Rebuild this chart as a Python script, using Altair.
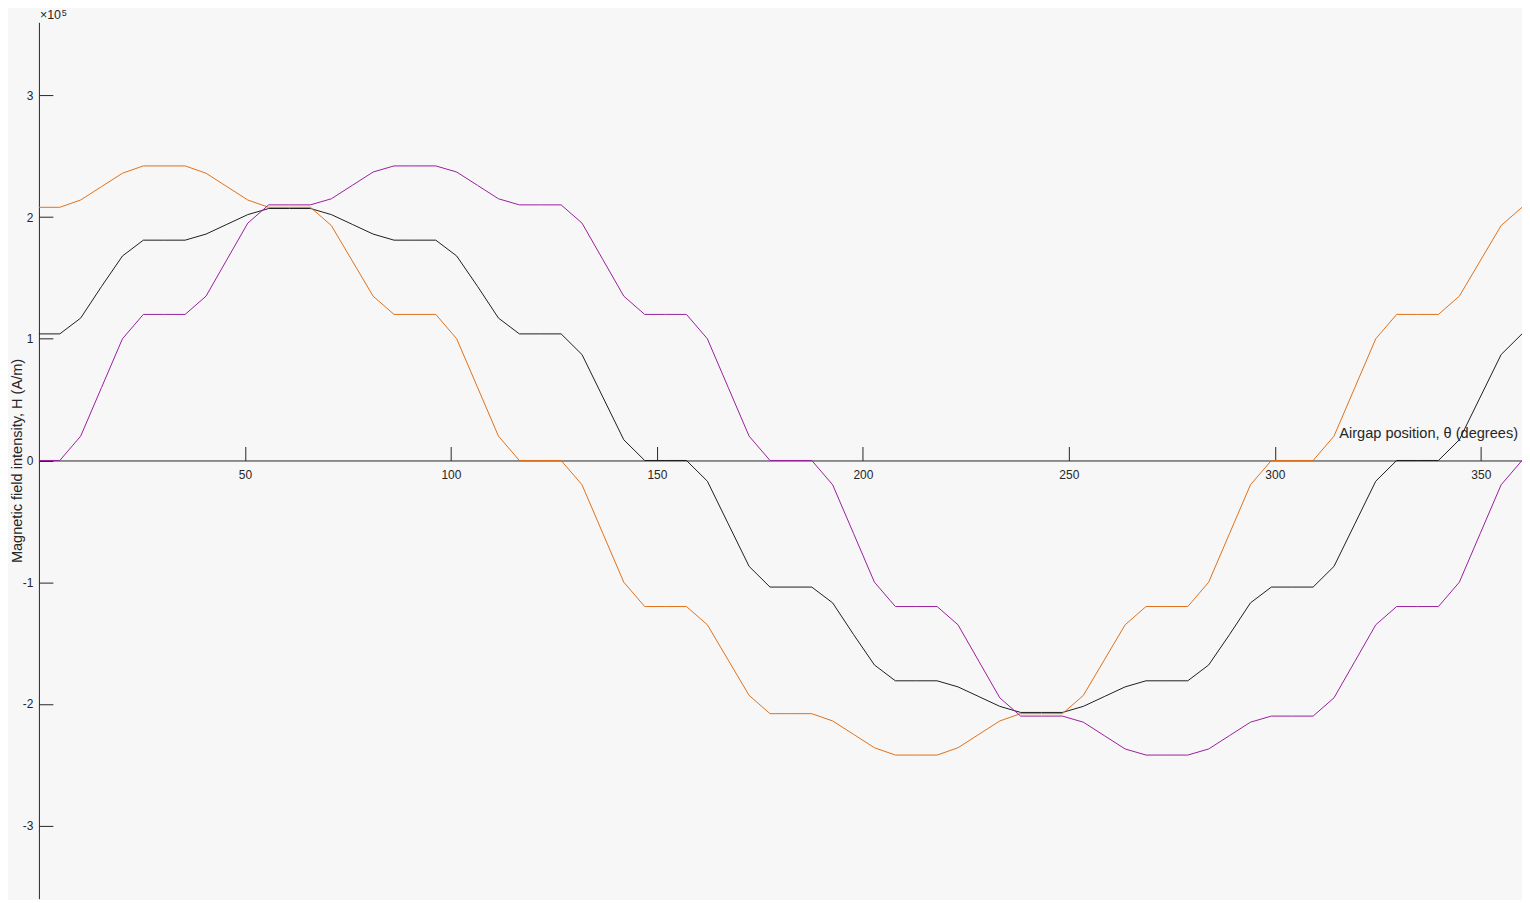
import altair as alt
import pandas as pd

# Airgap position grid (72 samples from 0 to 360 degrees)
theta_deg = [k * 360 / 71 for k in range(72)]

# Magnetic field intensity, in units of 1e5 A/m
h_black = [
    1.04, 1.04, 1.17, 1.43, 1.68, 1.81, 1.81, 1.81, 1.86, 1.94, 2.02, 2.07,
    2.07, 2.07, 2.02, 1.94, 1.86, 1.81, 1.81, 1.81, 1.68, 1.43, 1.17, 1.04,
    1.04, 1.04, 0.87, 0.52, 0.17, 0.00, 0.00, 0.00, -0.17, -0.52, -0.87, -1.04,
    -1.04, -1.04, -1.17, -1.43, -1.68, -1.81, -1.81, -1.81, -1.86, -1.94, -2.02, -2.07,
    -2.07, -2.07, -2.02, -1.94, -1.86, -1.81, -1.81, -1.81, -1.68, -1.43, -1.17, -1.04,
    -1.04, -1.04, -0.87, -0.52, -0.17, 0.00, 0.00, 0.00, 0.17, 0.52, 0.87, 1.04,
]
h_orange = [
    2.08, 2.08, 2.14, 2.25, 2.36, 2.42, 2.42, 2.42, 2.36, 2.25, 2.14, 2.08,
    2.08, 2.08, 1.93, 1.64, 1.35, 1.20, 1.20, 1.20, 1.00, 0.60, 0.20, 0.00,
    0.00, 0.00, -0.20, -0.60, -1.00, -1.20, -1.20, -1.20, -1.35, -1.64, -1.93, -2.08,
    -2.08, -2.08, -2.14, -2.25, -2.36, -2.42, -2.42, -2.42, -2.36, -2.25, -2.14, -2.08,
    -2.08, -2.08, -1.93, -1.64, -1.35, -1.20, -1.20, -1.20, -1.00, -0.60, -0.20, 0.00,
    0.00, 0.00, 0.20, 0.60, 1.00, 1.20, 1.20, 1.20, 1.35, 1.64, 1.93, 2.08,
]
h_purple = [
    0.00, 0.00, 0.20, 0.60, 1.00, 1.20, 1.20, 1.20, 1.35, 1.65, 1.95, 2.10,
    2.10, 2.10, 2.15, 2.26, 2.37, 2.42, 2.42, 2.42, 2.37, 2.26, 2.15, 2.10,
    2.10, 2.10, 1.95, 1.65, 1.35, 1.20, 1.20, 1.20, 1.00, 0.60, 0.20, 0.00,
    0.00, 0.00, -0.20, -0.60, -1.00, -1.20, -1.20, -1.20, -1.35, -1.65, -1.95, -2.10,
    -2.10, -2.10, -2.15, -2.26, -2.37, -2.42, -2.42, -2.42, -2.37, -2.26, -2.15, -2.10,
    -2.10, -2.10, -1.95, -1.65, -1.35, -1.20, -1.20, -1.20, -1.00, -0.60, -0.20, 0.00,
]

series_names = ["a_black", "b_orange", "c_purple"]
series_colors = ["#1e1e1e", "#e0701a", "#9a1f9e"]
x_ticks = [50, 100, 150, 200, 250, 300, 350]
y_ticks = [-3, -2, -1, 0, 1, 2, 3]

rows = []
for name, vals in zip(series_names, [h_black, h_orange, h_purple]):
    for t, v in zip(theta_deg, vals):
        rows.append({"theta": t, "H": v, "series": name})
df = pd.DataFrame(rows)

W = 1487.5
HT = 879
AX = "#262626"
FONT = "Liberation Sans, Arial, Helvetica, sans-serif"
HYPHEN = "replace(datum.label, '\u2212', '-')"

x_scale = alt.Scale(domain=[0, 360], nice=False, zero=False)
y_scale = alt.Scale(domain=[-3.6, 3.6], nice=False, zero=False)

main = alt.Chart(df).mark_line(strokeWidth=1).encode(
    x=alt.X(
        "theta:Q",
        scale=x_scale,
        axis=alt.Axis(
            orient="bottom", offset=-HT / 2, values=x_ticks, ticks=False, tickSize=0,
            labelPadding=9, labelFontSize=12, labelColor=AX, labelFont=FONT,
            domainColor=AX, domainWidth=1, grid=False,
            title="Airgap position, θ (degrees)", titleX=1483, titleY=-23.5,
            titleAlign="right", titleBaseline="alphabetic", titleFontSize=14.6,
            titleFontWeight="normal", titleColor=AX, titleFont=FONT,
        ),
    ),
    y=alt.Y(
        "H:Q",
        scale=y_scale,
        axis=alt.Axis(
            orient="left", values=y_ticks, ticks=False, tickSize=0,
            labelPadding=6, labelFontSize=12, labelColor=AX, labelFont=FONT,
            labelExpr=HYPHEN,
            domainColor=AX, domainWidth=1, grid=False,
            title="Magnetic field intensity, H (A/m)", titleX=-17, titleY=HT / 2,
            titleAngle=270, titleAlign="center", titleBaseline="alphabetic",
            titleFontSize=14.6, titleFontWeight="normal", titleColor=AX, titleFont=FONT,
        ),
    ),
    color=alt.Color("series:N", scale=alt.Scale(domain=series_names, range=series_colors), legend=None),
)

tick_layer = alt.Chart(df).mark_line(opacity=0).encode(
    x=alt.X(
        "theta:Q",
        scale=x_scale,
        axis=alt.Axis(
            orient="top", offset=-HT / 2, values=x_ticks, ticks=True, tickSize=14,
            tickColor=AX, tickWidth=1, labels=False, domain=False, grid=False, title=None,
        ),
    ),
    y=alt.Y(
        "H:Q",
        scale=y_scale,
        axis=alt.Axis(
            orient="right", offset=-W, values=y_ticks, ticks=True, tickSize=14,
            tickColor=AX, tickWidth=1, labels=False, domain=False, grid=False, title=None,
        ),
    ),
)

exp_base = alt.Chart(pd.DataFrame({"t": ["×10"]})).mark_text(
    align="left", baseline="alphabetic", fontSize=12.5, color=AX, font=FONT
).encode(text="t:N", x=alt.value(1), y=alt.value(-3))

exp_pow = alt.Chart(pd.DataFrame({"t": ["5"]})).mark_text(
    align="left", baseline="alphabetic", fontSize=9, color=AX, font=FONT
).encode(text="t:N", x=alt.value(23), y=alt.value(-6.3))

chart = alt.layer(main, tick_layer, exp_base, exp_pow).resolve_axis(
    x="independent", y="independent"
).properties(
    width=W,
    height=HT,
    padding={"left": 31, "top": 13, "right": 0, "bottom": 0},
    autosize=alt.AutoSizeParams(type="none"),
    background="#f7f7f7",
).configure_view(stroke=None)

chart.save("out.html", embed_options={"renderer": "svg", "actions": False})
